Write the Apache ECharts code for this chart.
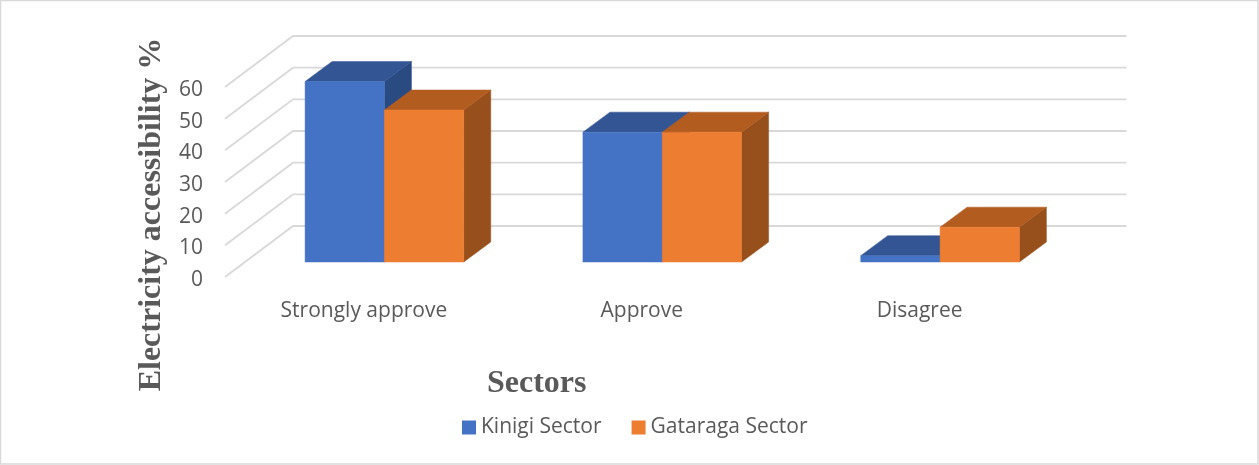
<!DOCTYPE html>
<html>
<head>
<meta charset="utf-8">
<style>html,body{margin:0;padding:0;background:#fff}#c{width:1259px;height:465px}</style>
<script src="https://cdn.jsdelivr.net/npm/echarts@6/dist/echarts.min.js"></script>
</head>
<body>
<div id="c"></div>
<script>
const categories = ['Strongly approve', 'Approve', 'Disagree'];
const kinigi = [57, 41, 2];
const gataraga = [48, 41, 11];
const ticks = [0, 10, 20, 30, 40, 50, 60];

const WALL_DX = 68, WALL_DY = 51;   // depth of the 3D floor
const BASE_DX = 20.5, BASE_DY = 15; // bar front plane, from the floor's front edge
const BAR_DX = 27, BAR_DY = 20;     // bar depth
const BAR_SHARE = 0.2855;           // bar width as share of the category band

function wallItem(params, api) {
  const v = api.value(0);
  const cs = params.coordSys;
  const y = api.coord([0, v])[1];
  const x0 = cs.x, x1 = cs.x + WALL_DX, x2 = cs.x + cs.width + WALL_DX, y1 = y - WALL_DY;
  return {
    type: 'polyline',
    silent: true,
    shape: { points: [[x0, y], [x1, y1], [x2, y1]] },
    style: { fill: null, stroke: '#d9d9d9', lineWidth: 1.8 }
  };
}

function barItem(side, front, top, right) {
  return function (params, api) {
    const c = api.coord([api.value(0), api.value(1)]);
    const zero = api.coord([api.value(0), 0]);
    const w = api.size([1, 0])[0] * BAR_SHARE;
    const xl = c[0] + BASE_DX + (side < 0 ? -w : 0);
    const xr = xl + w;
    const yt = c[1] - BASE_DY;
    const yb = zero[1] - BASE_DY;
    const poly = (pts, fill) => ({ type: 'polygon', shape: { points: pts }, style: { fill: fill, stroke: fill, lineWidth: 0.5 } });
    return {
      type: 'group',
      children: [
        poly([[xr, yt], [xr + BAR_DX, yt - BAR_DY], [xr + BAR_DX, yb - BAR_DY], [xr, yb]], right),
        poly([[xl, yt], [xl + BAR_DX, yt - BAR_DY], [xr + BAR_DX, yt - BAR_DY], [xr, yt]], top),
        poly([[xl, yt], [xr, yt], [xr, yb], [xl, yb]], front)
      ]
    };
  };
}

const chart = echarts.init(document.getElementById('c'), null, { renderer: 'canvas' });
chart.setOption({
  animation: false,
  backgroundColor: '#ffffff',
  graphic: [{
    type: 'rect', silent: true, z: 100,
    shape: { x: 0.5, y: 0.5, width: 1257.5, height: 463.5 },
    style: { fill: null, stroke: '#d9d9d9', lineWidth: 1.5 }
  }],
  grid: { left: 225, top: 87, width: 833.5, height: 190, outerBoundsMode: 'none' },
  legend: {
    left: 462, top: 417, padding: 0,
    itemWidth: 14, itemHeight: 14, itemGap: 30,
    icon: 'rect',
    data: ['Kinigi Sector', 'Gataraga Sector'],
    textStyle: { fontFamily: 'Open Sans', fontSize: 21, color: '#595959' }
  },
  xAxis: {
    type: 'category', data: categories,
    axisLine: { show: false }, axisTick: { show: false }, splitLine: { show: false },
    axisLabel: { fontFamily: 'Open Sans', fontSize: 21, color: '#595959', margin: 24 },
    name: 'Sectors', nameLocation: 'middle', nameGap: 91,
    nameTextStyle: { fontFamily: 'Liberation Serif', fontWeight: 'bold', fontSize: 32, color: '#595959', padding: [0, 210, 0, 0] }
  },
  yAxis: {
    type: 'value', min: 0, max: 60, interval: 10,
    axisLine: { show: false }, axisTick: { show: false }, splitLine: { show: false },
    axisLabel: {
      margin: 22,
      formatter: '{t|{value}}',
      rich: { t: { fontFamily: 'Open Sans', fontSize: 21, color: '#595959', padding: [6, 0, 0, 0] } }
    },
    name: 'Electricity accessibility %', nameLocation: 'middle', nameGap: 50, nameRotate: 90,
    nameTextStyle: { fontFamily: 'Liberation Serif', fontWeight: 'bold', fontSize: 32, color: '#595959', padding: [0, 65, 0, 0] }
  },
  series: [
    { type: 'custom', name: 'walls', silent: true, z: 1, renderItem: wallItem, data: ticks.map(t => [t]), encode: { y: 0 } },
    { type: 'custom', name: 'Kinigi Sector', z: 2, itemStyle: { color: '#4472c4' },
      renderItem: barItem(-1, '#4472c4', '#335593', '#2a4a82'),
      data: kinigi.map((v, i) => [i, v]), encode: { x: 0, y: 1 } },
    { type: 'custom', name: 'Gataraga Sector', z: 3, itemStyle: { color: '#ed7d31' },
      renderItem: barItem(1, '#ed7d31', '#b35c20', '#97501b'),
      data: gataraga.map((v, i) => [i, v]), encode: { x: 0, y: 1 } }
  ]
});
</script>
</body>
</html>
